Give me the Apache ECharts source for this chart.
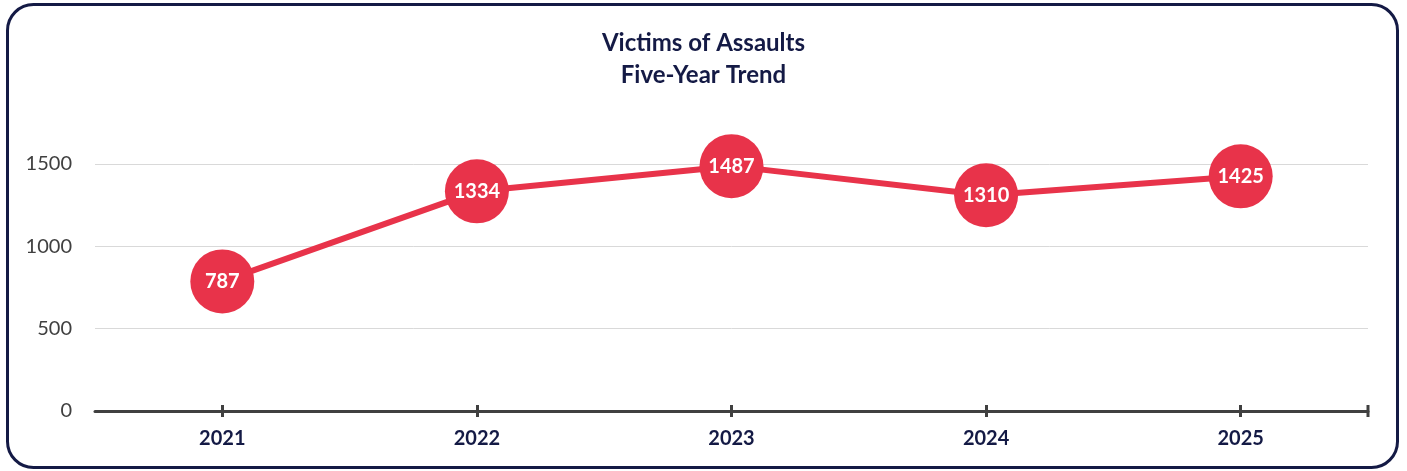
<!DOCTYPE html>
<html><head><meta charset="utf-8">
<script src="https://cdn.jsdelivr.net/npm/echarts@6/dist/echarts.min.js"></script>
<style>html,body{margin:0;padding:0;background:#fff;}#c{width:1407px;height:471px;}</style>
</head><body><div id="c"></div>
<script>
const titleLines = ["Victims of Assaults", "Five-Year Trend"];
const years = ["2021", "2022", "2023", "2024", "2025"];
const victims = [787, 1334, 1487, 1310, 1425];
const yTicks = [0, 500, 1000, 1500];

const chart = echarts.init(document.getElementById('c'));
const FONT = 'Lato, "Open Sans", sans-serif';
const tickStyle = { color: '#404040', width: 3 };
chart.setOption({
  backgroundColor: '#fff',
  animation: false,
  title: {
    text: titleLines.join('\n'),
    left: 'center', top: 22,
    textStyle: { fontFamily: FONT, fontWeight: 'bold', fontSize: 24, color: '#141a45', lineHeight: 32 }
  },
  graphic: [
    { type: 'rect', shape: { x: 7.5, y: 4.5, width: 1390, height: 463, r: 26 },
      style: { fill: 'none', stroke: '#141a45', lineWidth: 3 }, z: -1 },
    { type: 'line', shape: { x1: 1368, y1: 405, x2: 1368, y2: 417 },
      style: { stroke: '#404040', lineWidth: 3 }, z: 5 }
  ],
  grid: { left: 95, right: 39, top: 164, bottom: 60 },
  xAxis: [{
    type: 'category', data: years, boundaryGap: true,
    axisLine: { show: true, lineStyle: { color: '#404040', width: 3 } },
    axisTick: { show: true, interval: 0, alignWithLabel: true, length: 6, lineStyle: tickStyle },
    axisLabel: { fontFamily: FONT, fontWeight: 'bold', fontSize: 20, color: '#141a45', margin: 18 }
  }, {
    type: 'category', data: years, boundaryGap: true, position: 'bottom',
    axisLine: { show: false },
    axisTick: { show: true, interval: 0, alignWithLabel: true, inside: true, length: 6, lineStyle: tickStyle },
    axisLabel: { show: false }
  }],
  yAxis: {
    type: 'value', min: yTicks[0], max: yTicks[yTicks.length - 1], interval: 500,
    axisLine: { show: false }, axisTick: { show: false },
    axisLabel: { fontFamily: FONT, fontSize: 20, color: '#404040', margin: 23, formatter: v => String(v) },
    splitLine: { lineStyle: { color: '#d9d9d9', width: 1 } }
  },
  series: [{
    type: 'line', data: victims,
    symbol: 'circle', symbolSize: 64,
    lineStyle: { color: '#e8334a', width: 6 },
    itemStyle: { color: '#e8334a' },
    label: { show: true, position: 'inside', fontFamily: FONT, fontWeight: 'bold', fontSize: 20, color: '#fff' },
    z: 3
  }]
});
</script></body></html>
